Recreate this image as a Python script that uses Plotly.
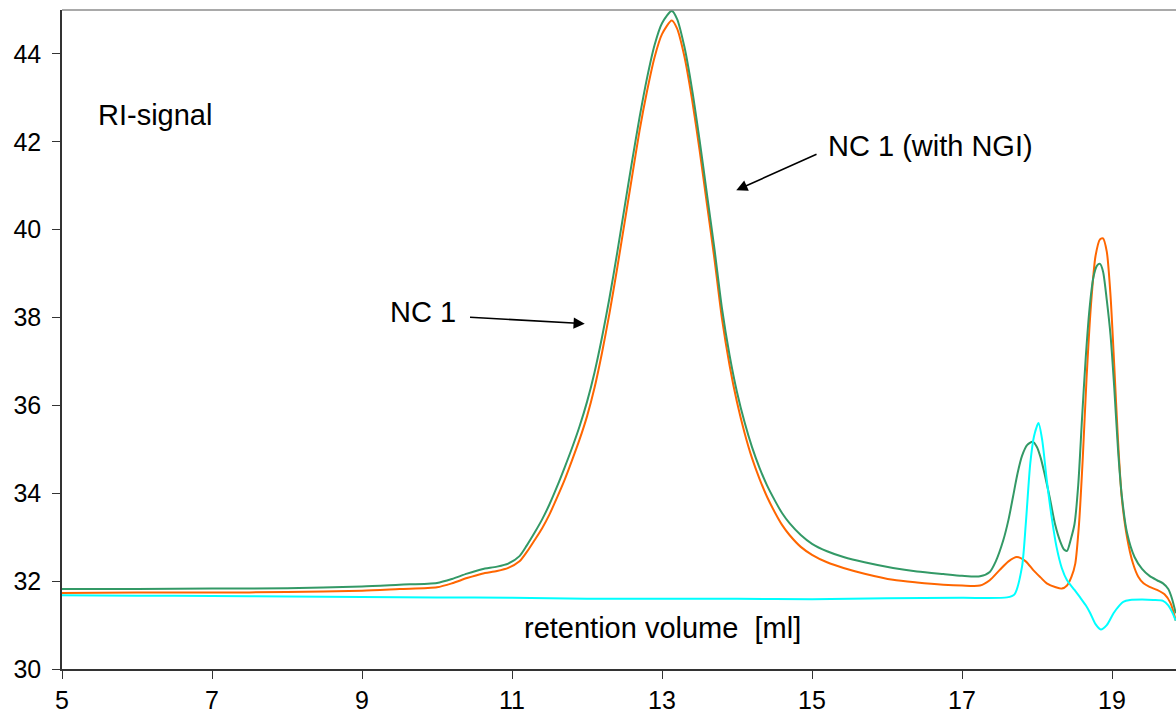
import plotly.graph_objects as go

# ---- data (retention volume [ml] vs RI-signal) ----
green_x = [5, 6, 7, 8, 9, 9.5, 10.0, 10.2, 10.4, 10.6, 10.8, 10.95, 11.1, 11.2, 11.3, 11.4, 11.5, 11.6,
           11.7, 11.8, 11.9, 12.0, 12.1, 12.2, 12.3, 12.4, 12.5, 12.6, 12.7, 12.8, 12.9, 13.0, 13.13,
           13.2, 13.3, 13.4, 13.5, 13.6, 13.7, 13.8, 13.9, 14.0, 14.1, 14.2, 14.3, 14.4, 14.5, 14.6,
           14.7, 14.85, 15.0, 15.2, 15.42, 15.7, 16.08, 16.4, 16.75, 17.0, 17.24, 17.37, 17.45, 17.55,
           17.62, 17.68, 17.74, 17.8, 17.87, 17.94, 18.0, 18.05, 18.1, 18.17, 18.24, 18.31, 18.36, 18.4,
           18.45, 18.5, 18.55, 18.6, 18.65, 18.7, 18.75, 18.8, 18.84, 18.88, 18.93, 18.98, 19.03, 19.08,
           19.13, 19.2, 19.3, 19.4, 19.5, 19.6, 19.68, 19.75, 19.8, 19.85]
green_y = [31.82, 31.82, 31.83, 31.84, 31.88, 31.92, 31.96, 32.05, 32.17, 32.27, 32.33, 32.4, 32.57,
           32.82, 33.1, 33.4, 33.75, 34.15, 34.58, 35.03, 35.52, 36.08, 36.75, 37.55, 38.45, 39.45,
           40.5, 41.55, 42.55, 43.45, 44.2, 44.7, 44.98, 44.8, 44.15, 43.2, 42.05, 40.8, 39.55, 38.2,
           37.15, 36.3, 35.62, 35.05, 34.58, 34.18, 33.85, 33.55, 33.32, 33.05, 32.85, 32.68, 32.55,
           32.43, 32.3, 32.22, 32.16, 32.12, 32.11, 32.21, 32.45, 32.93, 33.4, 33.92, 34.45, 34.85, 35.1,
           35.17, 35.05, 34.8, 34.45, 33.9, 33.3, 32.9, 32.72, 32.69, 32.95, 33.3, 34.2, 35.7, 37.1, 38.2,
           38.9, 39.18, 39.22, 39.05, 38.4, 37.6, 36.4, 35.0, 33.95, 33.1, 32.55, 32.28, 32.12, 32.02,
           31.95, 31.82, 31.6, 31.27]

orange_x = [5, 6, 7, 8, 9, 9.5, 10.0, 10.2, 10.4, 10.6, 10.8, 10.95, 11.1, 11.2, 11.3, 11.4, 11.5, 11.6,
            11.7, 11.8, 11.9, 12.0, 12.1, 12.2, 12.3, 12.4, 12.5, 12.6, 12.7, 12.8, 12.9, 13.0, 13.13,
            13.2, 13.3, 13.4, 13.5, 13.6, 13.7, 13.8, 13.9, 14.0, 14.1, 14.2, 14.3, 14.4, 14.5, 14.6,
            14.7, 14.85, 15.0, 15.2, 15.42, 15.7, 16.08, 16.4, 16.75, 17.0, 17.24, 17.37, 17.5, 17.62,
            17.73, 17.85, 17.95, 18.05, 18.13, 18.25, 18.33, 18.4, 18.46, 18.51, 18.56, 18.61, 18.66,
            18.72, 18.78, 18.84, 18.88, 18.93, 18.98, 19.03, 19.08, 19.13, 19.2, 19.28, 19.35, 19.42,
            19.5, 19.6, 19.7, 19.78, 19.85]
orange_y = [31.73, 31.74, 31.74, 31.75, 31.78, 31.82, 31.86, 31.95, 32.07, 32.17, 32.23, 32.3, 32.45,
            32.67, 32.93, 33.2, 33.52, 33.9, 34.3, 34.75, 35.22, 35.75, 36.4, 37.2, 38.1, 39.1, 40.15,
            41.2, 42.25, 43.15, 43.92, 44.45, 44.76, 44.58, 43.93, 42.97, 41.82, 40.57, 39.32, 37.97,
            36.92, 36.07, 35.38, 34.8, 34.33, 33.92, 33.58, 33.28, 33.05, 32.78, 32.6, 32.43, 32.3, 32.17,
            32.03, 31.97, 31.92, 31.9, 31.9, 32.02, 32.25, 32.45, 32.55, 32.45, 32.25, 32.08, 31.95,
            31.86, 31.83, 31.9, 32.1, 32.4, 33.3, 34.8, 36.6, 38.3, 39.4, 39.78, 39.8, 39.5, 38.5, 36.9,
            35.2, 33.9, 33.0, 32.4, 32.1, 31.95, 31.87, 31.8, 31.7, 31.5, 31.1]

cyan_x = [5, 6, 7, 8, 9, 10, 11, 12, 13, 14, 15, 16, 17, 17.6, 17.7, 17.8, 17.85, 17.91, 17.96, 18.02,
          18.07, 18.13, 18.2, 18.26, 18.33, 18.4, 18.5, 18.57, 18.65, 18.71, 18.78, 18.85, 18.93, 19.02,
          19.1, 19.15, 19.24, 19.4, 19.55, 19.68, 19.75, 19.8, 19.85]
cyan_y = [31.68, 31.67, 31.66, 31.65, 31.64, 31.63, 31.62, 31.6, 31.6, 31.6, 31.59, 31.61, 31.62, 31.63,
          31.7, 32.33, 33.3, 34.68, 35.3, 35.6, 35.2, 34.3, 33.4, 32.78, 32.3, 32.02, 31.8, 31.64, 31.45,
          31.27, 31.02, 30.9, 31.0, 31.27, 31.45, 31.53, 31.57, 31.58, 31.57, 31.55, 31.45, 31.3, 31.1]

x_ticks = [5, 7, 9, 11, 13, 15, 17, 19]
y_ticks = [30, 32, 34, 36, 38, 40, 42, 44]

FONT = "Liberation Sans, Arial, sans-serif"

fig = go.Figure()
fig.add_trace(go.Scatter(x=orange_x, y=orange_y, mode="lines", name="NC 1",
                         line=dict(color="#FF6600", width=2, shape="spline", smoothing=0.7)))
fig.add_trace(go.Scatter(x=green_x, y=green_y, mode="lines", name="NC 1 (with NGI)",
                         line=dict(color="#339966", width=2, shape="spline", smoothing=0.7)))
fig.add_trace(go.Scatter(x=cyan_x, y=cyan_y, mode="lines", name="blank",
                         line=dict(color="#00FFFF", width=2, shape="spline", smoothing=0.7)))

# text labels
fig.add_annotation(x=0.0305, y=0.8407, xref="paper", yref="paper", text="RI-signal", showarrow=False,
                   xanchor="left", yanchor="middle", font=dict(family=FONT, size=29, color="black"))
fig.add_annotation(x=13.0, y=30.93, text="retention volume\u00a0 [ml]", showarrow=False,
                   xanchor="center", yanchor="middle", font=dict(family=FONT, size=29, color="black"))
fig.add_annotation(x=9.81, y=38.12, text="NC 1", showarrow=False,
                   xanchor="center", yanchor="middle", font=dict(family=FONT, size=29, color="black"))
fig.add_annotation(x=15.19, y=41.9, text="NC 1 (with NGI)", showarrow=False,
                   xanchor="left", yanchor="middle", font=dict(family=FONT, size=29, color="black"))

# arrows
fig.add_annotation(x=11.97, y=37.86, ax=10.42, ay=38.01, xref="x", yref="y", axref="x", ayref="y",
                   text="", showarrow=True, arrowhead=2, arrowsize=1.4, arrowwidth=1.6, arrowcolor="black")
fig.add_annotation(x=13.99, y=40.9, ax=15.08, ay=41.73, xref="x", yref="y", axref="x", ayref="y",
                   text="", showarrow=True, arrowhead=2, arrowsize=1.4, arrowwidth=1.6, arrowcolor="black")

# top border
fig.add_shape(type="line", xref="paper", yref="paper", x0=0, x1=1, y0=1, y1=1,
              line=dict(color="#8c8c8c", width=1.5))

fig.update_layout(
    width=1176, height=717,
    margin=dict(l=62, r=0, t=10, b=48),
    paper_bgcolor="white", plot_bgcolor="white",
    showlegend=False,
    font=dict(family=FONT, size=25, color="black"),
)
fig.update_xaxes(range=[5, 19.853], tickmode="array", tickvals=x_ticks,
                 showgrid=False, zeroline=False, showline=True, linecolor="#333333", linewidth=1.5,
                 ticks="outside", ticklen=8, tickcolor="#333333", tickwidth=1.2,
                 tickfont=dict(family=FONT, size=25, color="black"))
fig.update_yaxes(range=[30, 45], tickmode="array", tickvals=y_ticks,
                 showgrid=False, zeroline=False, showline=True, linecolor="#333333", linewidth=1.5,
                 ticks="outside", ticklen=8, tickcolor="#333333", tickwidth=1.2,
                 ticklabelstandoff=6,
                 tickfont=dict(family=FONT, size=25, color="black"))

fig.write_html("out.html")
